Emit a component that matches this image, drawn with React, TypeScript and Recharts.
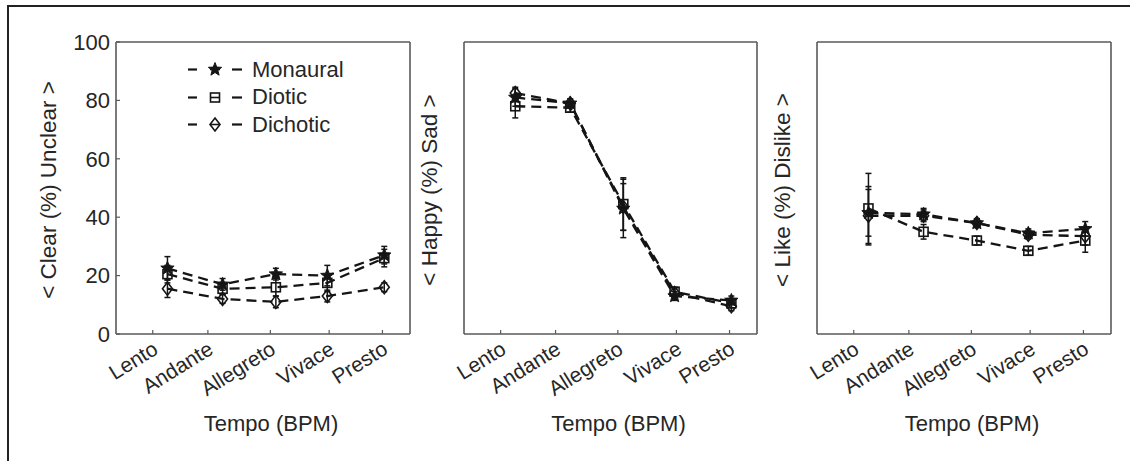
import React from 'react';
import { LineChart, Line, XAxis, YAxis, ErrorBar, Legend } from 'recharts';

// ---------- data ----------
const tempoNames = ['Lento', 'Andante', 'Allegreto', 'Vivace', 'Presto'];
const tempoTicks = [60, 90, 124, 156, 185];
const tempoPoints = [68, 98, 127, 155, 186];
const yTicks = [0, 20, 40, 60, 80, 100];
const seriesNames = ['Monaural', 'Diotic', 'Dichotic'];

// Clear (%) Unclear
const clearMonaural = [22.5, 17, 20.5, 20, 27];
const clearMonauralErr = [4, 2, 2, 3.5, 3];
const clearDiotic = [20.5, 15.5, 16, 17.5, 26];
const clearDioticErr = [3, 2, 3, 3, 3];
const clearDichotic = [15.5, 12, 11, 13, 16];
const clearDichoticErr = [3, 1.5, 2, 2, 1.5];

// Happy (%) Sad
const sadMonaural = [81, 79, 43, 13, 11.5];
const sadMonauralErr = [3, 1.5, 10, 1.5, 1.5];
const sadDiotic = [78, 77.5, 44.5, 14.5, 10.5];
const sadDioticErr = [4, 1.5, 9, 1.5, 1.5];
const sadDichotic = [82.5, 79, 43.5, 14, 9.5];
const sadDichoticErr = [2, 1.5, 8, 1.5, 1.5];

// Like (%) Dislike
const likeMonaural = [41.5, 41, 38, 34.5, 36];
const likeMonauralErr = [8, 2, 1.5, 1.5, 2.5];
const likeDiotic = [43, 35, 32, 28.5, 32];
const likeDioticErr = [12, 2.5, 1.5, 1.5, 4];
const likeDichotic = [40.5, 40.5, 38, 34, 33.5];
const likeDichoticErr = [10, 2, 1.5, 1.5, 3];

// ---------- styles ----------
const FONT = '"Liberation Sans", Arial, Helvetica, sans-serif';
const INK = '#151515';
const AXIS = '#5a5a5a';
const TEXT = '#262626';
const CHART_H = 461;

function buildRows(
  mon: number[], monErr: number[], dio: number[], dioErr: number[], dic: number[], dicErr: number[]
) {
  return tempoPoints.map((x, i) => ({
    x,
    mon: mon[i], monErr: monErr[i],
    dio: dio[i], dioErr: dioErr[i],
    dic: dic[i], dicErr: dicErr[i],
  }));
}

const clearRows = buildRows(clearMonaural, clearMonauralErr, clearDiotic, clearDioticErr, clearDichotic, clearDichoticErr);
const sadRows = buildRows(sadMonaural, sadMonauralErr, sadDiotic, sadDioticErr, sadDichotic, sadDichoticErr);
const likeRows = buildRows(likeMonaural, likeMonauralErr, likeDiotic, likeDioticErr, likeDichotic, likeDichoticErr);

// ---------- markers ----------
function starPoints(cx: number, cy: number, R: number, r: number) {
  const pts: string[] = [];
  for (let k = 0; k < 10; k++) {
    const ang = -Math.PI / 2 + (k * Math.PI) / 5;
    const rad = k % 2 === 0 ? R : r;
    pts.push(`${cx + rad * Math.cos(ang)},${cy + rad * Math.sin(ang)}`);
  }
  return pts.join(' ');
}

const StarMark = ({ cx, cy }: { cx: number; cy: number }) => (
  <polygon points={starPoints(cx, cy, 7, 3)} fill={INK} stroke={INK} strokeWidth={1} />
);
const SquareMark = ({ cx, cy }: { cx: number; cy: number }) => (
  <rect x={cx - 4.5} y={cy - 4.5} width={9} height={9} fill="none" stroke={INK} strokeWidth={1.6} />
);
const DiamondMark = ({ cx, cy }: { cx: number; cy: number }) => (
  <polygon
    points={`${cx},${cy - 6.5} ${cx + 5},${cy} ${cx},${cy + 6.5} ${cx - 5},${cy}`}
    fill="none"
    stroke={INK}
    strokeWidth={1.6}
  />
);
const marks = [StarMark, SquareMark, DiamondMark];

const dotFn = (Mark: any, tag: string) => (props: any) => {
  const { cx, cy, index } = props;
  if (cx == null || cy == null) return <g key={`${tag}${index}`} />;
  return (
    <g key={`${tag}${index}`}>
      <Mark cx={cx} cy={cy} />
    </g>
  );
};

// ---------- ticks / labels ----------
const TempoTick = (props: any) => {
  const { x, y, payload } = props;
  const i = tempoTicks.indexOf(payload.value);
  return (
    <text
      x={x}
      y={y}
      dy="0.6em"
      textAnchor="end"
      transform={`rotate(-32 ${x} ${y})`}
      fontFamily={FONT}
      fontSize={21}
      fill={TEXT}
    >
      {tempoNames[i]}
    </text>
  );
};

const LegendBox = () => (
  <div style={{ fontFamily: FONT, fontSize: 22, color: TEXT, lineHeight: 1 }}>
    {seriesNames.map((name, i) => {
      const Mark = marks[i];
      return (
        <div key={name} style={{ display: 'flex', alignItems: 'center', height: 27.5 }}>
          <svg width={64} height={27} style={{ display: 'block' }}>
            <line x1={0} y1={13.5} x2={9} y2={13.5} stroke={INK} strokeWidth={2.2} />
            <line x1={22} y1={13.5} x2={32} y2={13.5} stroke={INK} strokeWidth={1.6} />
            <Mark cx={27} cy={13.5} />
            <line x1={44} y1={13.5} x2={54} y2={13.5} stroke={INK} strokeWidth={2.2} />
          </svg>
          <span>{name}</span>
        </div>
      );
    })}
  </div>
);

type PanelProps = {
  left: number;
  width: number;
  yAxisWidth: number;
  marginRight: number;
  rows: any[];
  yLabel: string;
  yLabelOffset: number;
  showYTickLabels: boolean;
  showLegend: boolean;
};

function Panel(p: PanelProps) {
  const plotLeft = p.yAxisWidth;
  const plotWidth = p.width - p.yAxisWidth - p.marginRight;
  const plotTop = 42;
  const plotBottom = CHART_H - 127;
  const xLabel = () => (
    <text
      x={plotLeft + plotWidth / 2 + 8}
      y={431}
      textAnchor="middle"
      fontFamily={FONT}
      fontSize={22}
      fill={TEXT}
    >
      Tempo (BPM)
    </text>
  );
  const yLabel = () => {
    const cx = plotLeft - p.yLabelOffset;
    const cy = (plotTop + plotBottom) / 2 + 2;
    return (
      <text
        x={cx}
        y={cy}
        textAnchor="middle"
        dominantBaseline="central"
        transform={`rotate(-90 ${cx} ${cy})`}
        fontFamily={FONT}
        fontSize={22.5}
        fill={TEXT}
      >
        {p.yLabel}
      </text>
    );
  };
  const axisLine = { stroke: AXIS, strokeWidth: 1.6 };
  const tickLine = { stroke: AXIS, strokeWidth: 1.2 };
  const keys = ['mon', 'dio', 'dic'];
  return (
    <div style={{ position: 'absolute', left: p.left, top: 0 }}>
      <LineChart
        width={p.width}
        height={CHART_H}
        data={p.rows}
        margin={{ top: plotTop - 1, right: p.marginRight - 1, bottom: 0, left: 0 }}
      >
        <XAxis
          xAxisId="b"
          type="number"
          dataKey="x"
          domain={[40, 200]}
          ticks={tempoTicks}
          interval={0}
          tick={<TempoTick />}
          tickSize={-4}
          tickMargin={12}
          height={127}
          axisLine={axisLine}
          tickLine={tickLine}
          label={{ content: xLabel }}
        />
        <XAxis
          xAxisId="t"
          orientation="top"
          type="number"
          dataKey="x"
          domain={[40, 200]}
          ticks={tempoTicks}
          interval={0}
          tick={false}
          tickSize={-4}
          height={1}
          axisLine={axisLine}
          tickLine={tickLine}
        />
        <YAxis
          yAxisId="l"
          type="number"
          domain={[0, 100]}
          ticks={yTicks}
          interval={0}
          width={p.yAxisWidth}
          tick={p.showYTickLabels ? { fontSize: 22, fill: TEXT, fontFamily: FONT } : false}
          tickSize={-4}
          tickMargin={10}
          axisLine={axisLine}
          tickLine={tickLine}
          label={{ content: yLabel }}
        />
        <YAxis
          yAxisId="r"
          orientation="right"
          type="number"
          domain={[0, 100]}
          ticks={yTicks}
          interval={0}
          width={1}
          tick={false}
          tickSize={-4}
          axisLine={axisLine}
          tickLine={tickLine}
        />
        <Line
          xAxisId="t"
          yAxisId="r"
          dataKey="mon"
          stroke="none"
          dot={false}
          activeDot={false}
          legendType="none"
          isAnimationActive={false}
        />
        {keys.map((k, i) => (
          <Line
            key={k}
            xAxisId="b"
            yAxisId="l"
            type="linear"
            dataKey={k}
            name={seriesNames[i]}
            stroke={INK}
            strokeWidth={2.3}
            strokeDasharray="10 6"
            dot={dotFn(marks[i], k)}
            activeDot={false}
            isAnimationActive={false}
          >
            <ErrorBar dataKey={`${k}Err`} direction="y" width={3} stroke={INK} strokeWidth={1.5} />
          </Line>
        ))}
        {p.showLegend && (
          <Legend
            layout="vertical"
            align="center"
            verticalAlign="middle"
            content={<LegendBox />}
            wrapperStyle={{ position: 'absolute', left: 188, top: 56, width: 200 }}
          />
        )}
      </LineChart>
    </div>
  );
}

export default function App() {
  return (
    <div
      style={{
        position: 'absolute',
        left: 0,
        top: 0,
        width: 1130,
        height: 461,
        background: '#fff',
        overflow: 'hidden',
      }}
    >
      <div
        style={{
          position: 'absolute',
          left: 6.5,
          top: 5,
          width: 1130,
          height: 470,
          borderTop: '2px solid #222',
          borderLeft: '2px solid #222',
        }}
      />
      <Panel
        left={0}
        width={420}
        yAxisWidth={116}
        marginRight={10}
        rows={clearRows}
        yLabel="< Clear (%) Unclear >"
        yLabelOffset={68}
        showYTickLabels={true}
        showLegend={true}
      />
      <Panel
        left={350}
        width={420}
        yAxisWidth={114}
        marginRight={13}
        rows={sadRows}
        yLabel="< Happy (%) Sad >"
        yLabelOffset={35}
        showYTickLabels={false}
        showLegend={false}
      />
      <Panel
        left={700}
        width={430}
        yAxisWidth={117}
        marginRight={19}
        rows={likeRows}
        yLabel="< Like (%) Dislike >"
        yLabelOffset={35}
        showYTickLabels={false}
        showLegend={false}
      />
    </div>
  );
}
